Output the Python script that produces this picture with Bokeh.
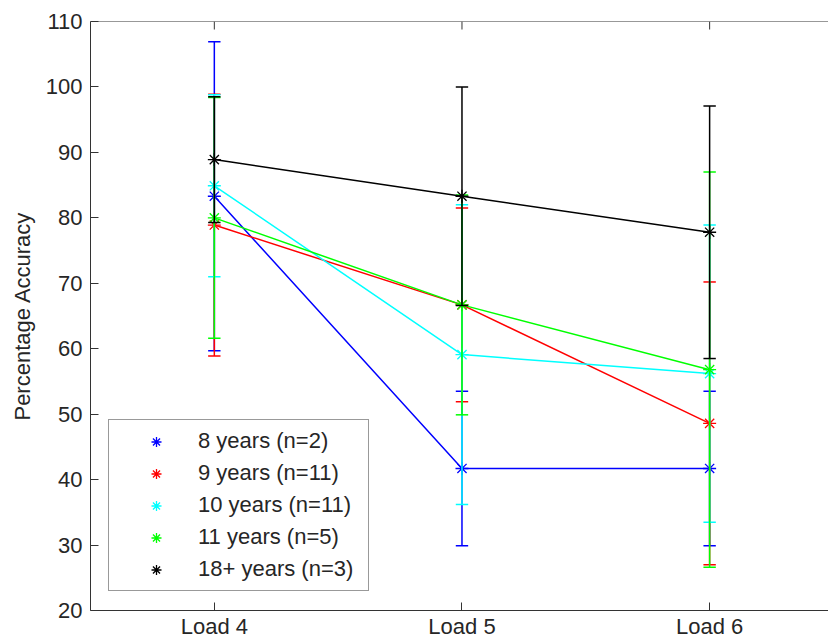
import math
from bokeh.plotting import figure
from bokeh.models import FixedTicker, Range1d, Legend, LegendItem, ColumnDataSource, Span
from bokeh.embed import file_html
from bokeh.resources import INLINE

# ---- data ----
loads = ["Load 4", "Load 5", "Load 6"]
load_x = [4, 5, 6]
y_ticks = [20, 30, 40, 50, 60, 70, 80, 90, 100, 110]

names = ["8 years (n=2)", "9 years (n=11)", "10 years (n=11)", "11 years (n=5)", "18+ years (n=3)"]
colors = ["#0000ff", "#ff0000", "#00ffff", "#00ff00", "#000000"]

acc_8 = [83.3, 41.7, 41.7]
err_8 = [23.6, 11.8, 11.8]
acc_9 = [78.9, 66.7, 48.6]
err_9 = [20.0, 14.8, 21.6]
acc_10 = [84.9, 59.1, 56.2]
err_10 = [13.9, 22.9, 22.7]
acc_11 = [80.0, 66.7, 56.8]
err_11 = [18.4, 16.8, 30.2]
acc_18 = [88.9, 83.3, 77.8]
err_18 = [9.6, 16.7, 19.3]

means = [acc_8, acc_9, acc_10, acc_11, acc_18]
errs = [err_8, err_9, err_10, err_11, err_18]

FONT = "Liberation Sans"
TXT = "#262626"
AXC = "#333333"
CAP = 0.025  # half cap width in x units

p = figure(width=828, height=641, x_range=Range1d(3.5, 6.48), y_range=Range1d(20, 110),
           output_backend="svg", toolbar_location=None,
           min_border_left=90, min_border_right=0, min_border_top=21, min_border_bottom=31,
           outline_line_color=None, background_fill_color="white", border_fill_color="white")
p.xgrid.visible = False
p.ygrid.visible = False

# axes
xa = p.xaxis[0]
xa.ticker = FixedTicker(ticks=load_x)
xa.major_label_overrides = {x: lab for x, lab in zip(load_x, loads)}
ya = p.yaxis[0]
ya.ticker = FixedTicker(ticks=y_ticks)
ya.axis_label = "Percentage Accuracy"
for ax in (xa, ya):
    ax.major_tick_in = 8
    ax.major_tick_out = 0
    ax.minor_tick_line_color = None
    ax.axis_line_color = AXC
    ax.major_tick_line_color = AXC
    ax.major_label_text_font = FONT
    ax.major_label_text_font_size = "22px"
    ax.major_label_text_color = TXT
    ax.major_label_standoff = 8
    ax.axis_label_text_font = FONT
    ax.axis_label_text_font_size = "22px"
    ax.axis_label_text_font_style = "normal"
    ax.axis_label_text_color = TXT
ya.axis_label_standoff = 8
xa.major_label_standoff = 3

# top border with inward ticks
p.add_layout(Span(location=110, dimension="width", line_color=AXC, line_width=1))
p.ray(x=load_x, y=[110] * len(load_x), length=8, length_units="screen",
      angle=-math.pi / 2, line_color=AXC, line_width=1)

items = []
for name, col, m, e in zip(names, colors, means, errs):
    lo = [a - b for a, b in zip(m, e)]
    hi = [a + b for a, b in zip(m, e)]
    src = ColumnDataSource(dict(x=load_x, y=m, lo=lo, hi=hi,
                                xl=[x - CAP for x in load_x], xr=[x + CAP for x in load_x]))
    p.segment(x0="x", y0="lo", x1="x", y1="hi", source=src, line_color=col, line_width=1.5)
    p.segment(x0="xl", y0="lo", x1="xr", y1="lo", source=src, line_color=col, line_width=1.5)
    p.segment(x0="xl", y0="hi", x1="xr", y1="hi", source=src, line_color=col, line_width=1.5)
    p.line(x="x", y="y", source=src, line_color=col, line_width=1.5)
    r = p.scatter(x="x", y="y", source=src, marker="asterisk", size=13, line_color=col, line_width=1.3)
    items.append(LegendItem(label=name, renderers=[r]))

leg = Legend(items=items, location=(18, 19), margin=0, padding=8, spacing=6,
             glyph_width=78, glyph_height=25, label_height=25, label_width=162, label_standoff=3,
             label_text_font=FONT, label_text_font_size="22px", label_text_color=TXT,
             border_line_color=AXC, border_line_width=1, background_fill_color="white")
p.add_layout(leg, "center")

open("out.html", "w").write(file_html(p, INLINE))
